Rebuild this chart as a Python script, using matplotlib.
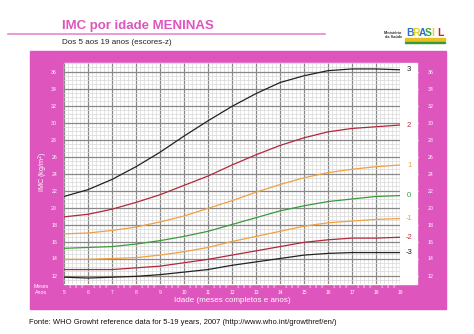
import numpy as np
import matplotlib.pyplot as plt
from matplotlib.patches import Rectangle
from matplotlib.lines import Line2D

plt.rcParams['font.family'] = ['Liberation Sans', 'DejaVu Sans']

PINK = '#dd55bd'

# WHO 2007 BMI-for-age, girls 5-19 years (z-scores)
ages = [5, 6, 7, 8, 9, 10, 11, 12, 13, 14, 15, 16, 17, 18, 19]
z_m3 = [11.8, 11.7, 11.8, 11.9, 12.1, 12.4, 12.7, 13.2, 13.6, 14.0, 14.4, 14.6, 14.7, 14.7, 14.7]
z_m2 = [12.7, 12.7, 12.7, 12.9, 13.1, 13.5, 13.9, 14.4, 14.9, 15.4, 15.9, 16.2, 16.4, 16.4, 16.5]
z_m1 = [13.9, 13.9, 14.0, 14.1, 14.4, 14.8, 15.3, 16.0, 16.6, 17.2, 17.8, 18.2, 18.4, 18.6, 18.7]
z_0 = [15.2, 15.3, 15.4, 15.7, 16.1, 16.6, 17.2, 18.0, 18.8, 19.6, 20.2, 20.7, 21.0, 21.3, 21.4]
z_p1 = [16.9, 17.0, 17.3, 17.7, 18.3, 19.0, 19.9, 20.8, 21.8, 22.7, 23.5, 24.1, 24.5, 24.8, 25.0]
z_p2 = [18.9, 19.2, 19.8, 20.6, 21.5, 22.6, 23.7, 25.0, 26.2, 27.3, 28.2, 28.9, 29.3, 29.5, 29.7]
z_p3 = [21.3, 22.1, 23.3, 24.8, 26.5, 28.4, 30.2, 31.9, 33.4, 34.7, 35.5, 36.1, 36.3, 36.3, 36.2]

curves = [z_p3, z_p2, z_p1, z_0, z_m1, z_m2, z_m3]
curve_labels = ['3', '2', '1', '0', '-1', '-2', '-3']
curve_colors = ['#222222', '#b0283a', '#f0a040', '#3a9a3a', '#f0a040', '#b0283a', '#222222']
label_colors = ['#222222', '#c03040', '#f0a040', '#3a9a3a', '#f0a040', '#c03040', '#222222']

yticks = list(range(12, 37, 2))
month_labels = ['3', '6', '9']

W, H = 474, 334
fig = plt.figure(figsize=(W / 100, H / 100), dpi=100)
fig.patch.set_facecolor('white')


def fx(px):
    return px / W


def fy(py):
    return 1 - py / H


# pink frame and white plotting area
fig.add_artist(Rectangle((fx(30), fy(309)), fx(416), (309 - 51) / H,
                         transform=fig.transFigure, color=PINK, zorder=0))
fig.add_artist(Rectangle((fx(64), fy(284)), fx(353), (284 - 63) / H,
                         transform=fig.transFigure, color='white', zorder=0.5))

# header
fig.text(fx(62), fy(26), 'IMC por idade MENINAS', color=PINK, fontsize=9.5,
         fontweight='bold', va='center', ha='left')
fig.add_artist(Line2D([fx(8), fx(325)], [fy(34), fy(34)], color=PINK, lw=1.2,
                      alpha=0.7, transform=fig.transFigure))
fig.text(fx(62), fy(42), 'Dos 5 aos 19 anos (escores-z)', color='#222222',
         fontsize=5.8, va='center', ha='left')

# logo
fig.text(fx(402), fy(35), 'Ministério\nda Saúde', fontsize=2.8, ha='right',
         va='center', color='#333333', fontweight='bold', linespacing=0.9)
logo_colors = ['#2b6fd0', '#e8d020', '#2b6fd0', '#3aa040', '#e8d020', '#d02020']
for i, (ch, c) in enumerate(zip('BRASIL', logo_colors)):
    fig.text(fx(406 + i * 6.3), fy(33), ch, color=c, fontsize=7.5,
             fontweight='bold', ha='left', va='center')
fig.add_artist(Rectangle((fx(405), fy(41)), fx(40), 2.5 / H,
                         transform=fig.transFigure, color='#e8c020'))
fig.add_artist(Rectangle((fx(405), fy(43)), fx(40), 1.5 / H,
                         transform=fig.transFigure, color='#3a9a3a'))

ax = fig.add_axes([fx(64), fy(284), fx(336), (284 - 63) / H])
ax.set_xlim(5, 19)
ax.set_ylim(11, 37)
ax.set_facecolor('none')
ax.set_zorder(1)

# grid: years / 2 months, 2 units / 0.5 unit
for x in np.arange(5, 19.01, 1 / 6):
    major = abs(x - round(x)) < 1e-6
    ax.axvline(x, color='#888888' if major else '#d8d8d8',
               lw=0.9 if major else 0.5, zorder=1)
for y in np.arange(11, 37.01, 0.5):
    major = abs(y - round(y)) < 1e-6 and int(round(y)) % 2 == 0
    ax.axhline(y, color='#888888' if major else '#d8d8d8',
               lw=0.9 if major else 0.5, zorder=1)

for vals, c in zip(curves, curve_colors):
    ax.plot(ages, vals, color=c, lw=0.9, zorder=3)

for vals, lab, c in zip(curves, curve_labels, label_colors):
    ax.text(19.38, vals[-1], lab, color=c, fontsize=5.5, ha='center',
            va='center', clip_on=False)

for s in ax.spines.values():
    s.set_visible(False)

ax.set_yticks(yticks)
ax.set_yticklabels([str(t) for t in yticks])
ax.tick_params(axis='y', which='both', left=False, right=False,
               labelleft=True, labelright=True, labelsize=3.8,
               labelcolor='white', pad=1.5)
# right labels sit outside the label column
for t in ax.yaxis.get_major_ticks():
    t.label2.set_x(1.07)
    t.label2.set_horizontalalignment('center')
for y in yticks:
    ax.plot([1.045, 1.055], [y, y], color='white', lw=0.5,
            transform=ax.get_yaxis_transform(), clip_on=False)

ax.set_xticks([])
for a in range(5, 20):
    ax.text(a, 10.0, str(a), color='white', fontsize=3.6, ha='center',
            va='center', clip_on=False)
    if a < 19:
        for k, m in enumerate(month_labels):
            ax.text(a + (k + 1) * 0.25, 10.6, m, color='white', fontsize=3.0,
                    ha='center', va='center', clip_on=False)

fig.text(fx(41), fy(287), 'Meses', color='white', fontsize=3.8,
         ha='center', va='center')
fig.text(fx(41), fy(293), 'Anos', color='white', fontsize=3.8,
         ha='center', va='center')
fig.text(fx(232), fy(301), 'Idade (meses completos e anos)', color='white',
         fontsize=5.8, ha='center', va='center')
fig.text(fx(43), fy(172), 'IMC (kg/m$^2$)', color='white', fontsize=5.2,
         ha='center', va='center', rotation=90)

fig.text(fx(29), fy(322),
         'Fonte: WHO Growht reference data for 5-19 years, 2007 '
         '(http://www.who.int/growthref/en/)',
         color='#111111', fontsize=5.5, ha='left', va='center')

fig.savefig('out.png', dpi=100)
